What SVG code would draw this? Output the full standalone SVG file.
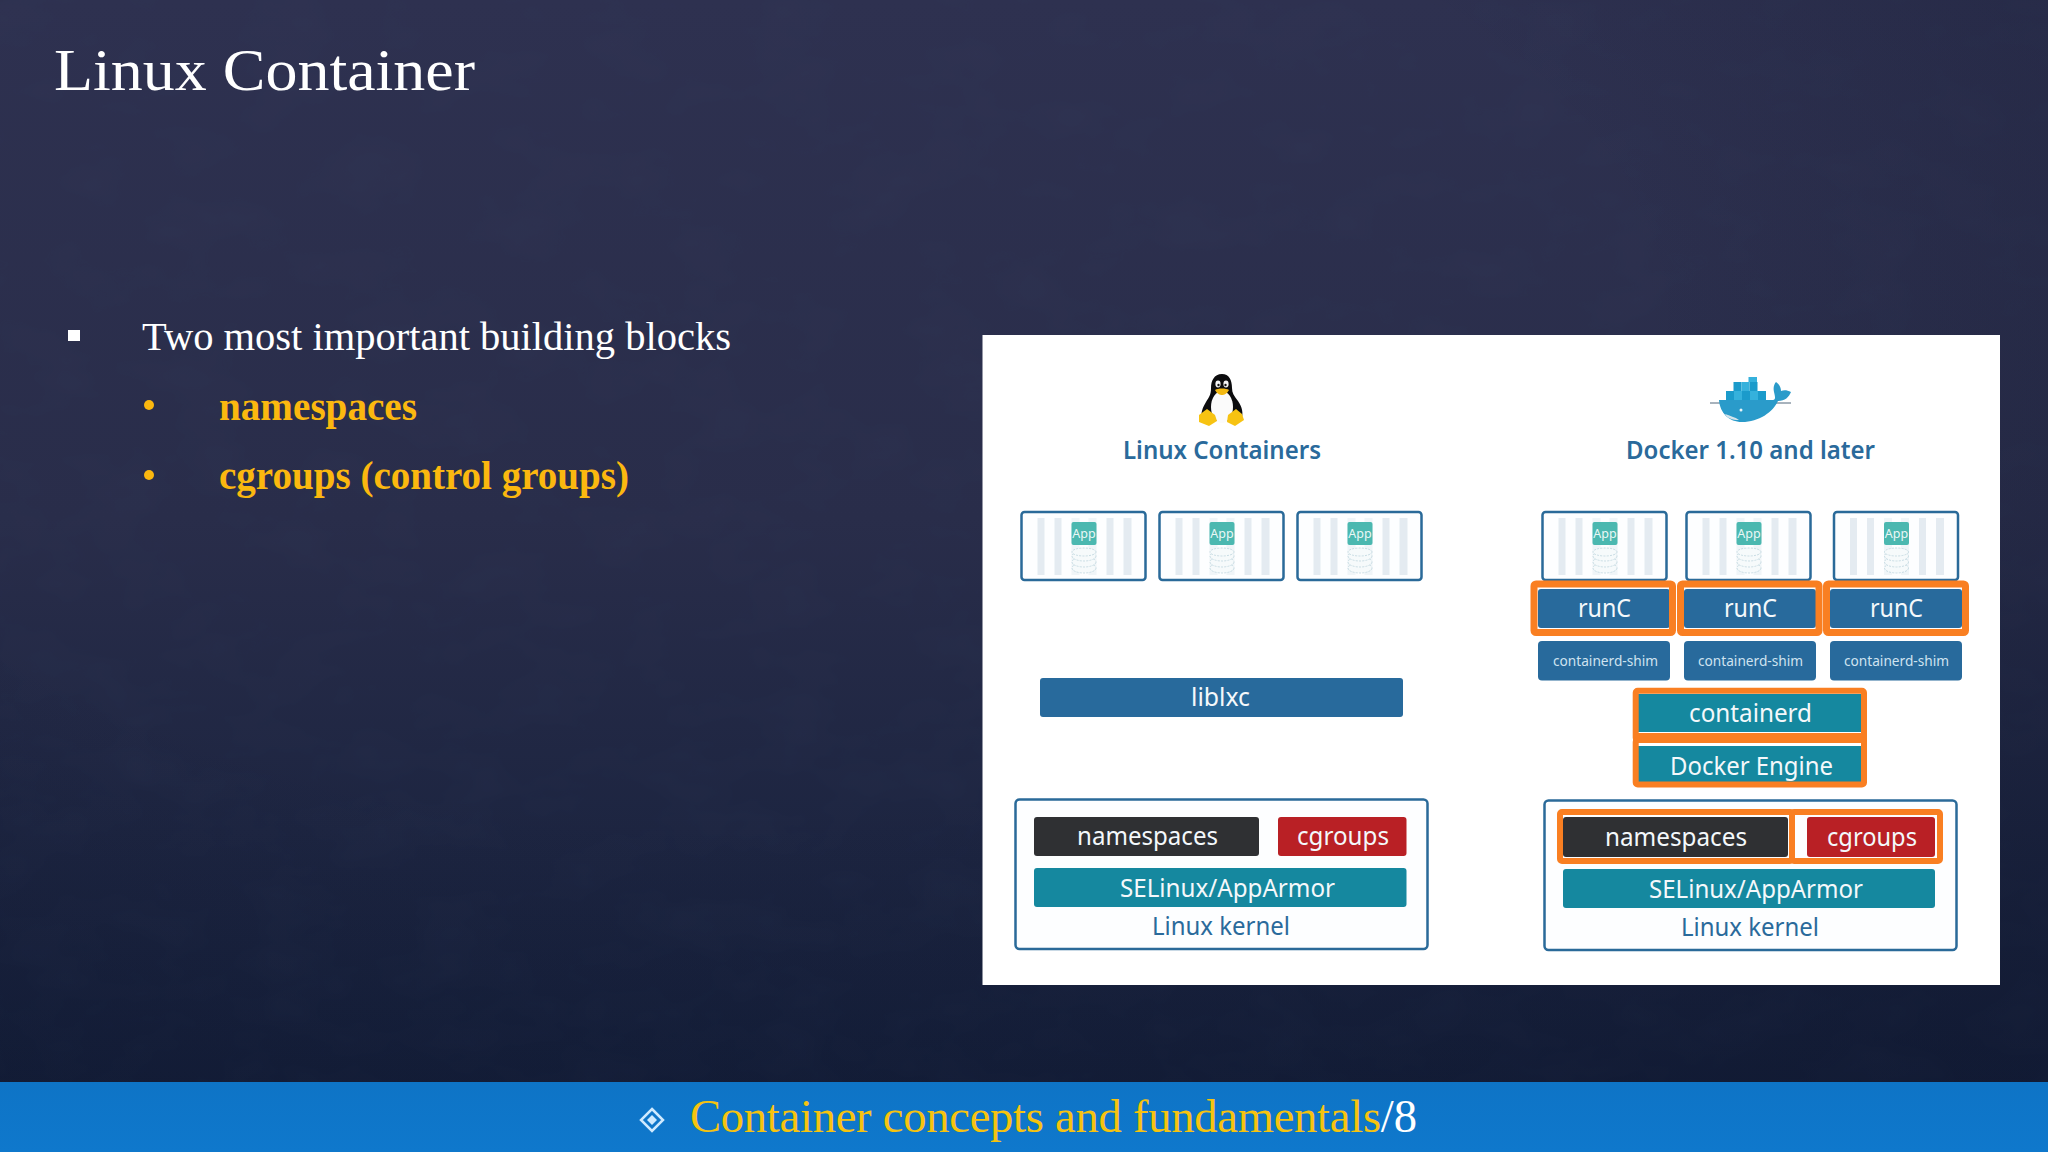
<svg xmlns="http://www.w3.org/2000/svg" width="2048" height="1152" viewBox="0 0 2048 1152">
<style>
.s{font-family:"Liberation Serif","Times New Roman",serif}
.n{font-family:"Noto Sans","Open Sans",sans-serif;font-size:26px}
.w{fill:#f4f8fb}
.b{fill:#286a9c}
.t{fill:#15889f}
.o{fill:none;stroke:#f97f22;stroke-width:6;stroke-linejoin:round}
.f{fill:#fdfeff;stroke:#2a6a99;stroke-width:2.5}
.h{font-weight:600;fill:#2a6a9b;font-size:25px}
.a{font-family:"Noto Sans",sans-serif;font-size:12.5px;fill:#eaf7f6}
</style>
<defs>
<linearGradient id="bg" x1="0" y1="0" x2="0" y2="1">
<stop offset="0" stop-color="#2e3150"/><stop offset=".45" stop-color="#292d4a"/><stop offset=".72" stop-color="#1d2541"/><stop offset="1" stop-color="#121d38"/>
</linearGradient>
<linearGradient id="bar" x1="0" y1="0" x2="0" y2="1"><stop offset="0" stop-color="#0e74c6"/><stop offset="1" stop-color="#0f78cc"/></linearGradient>
<radialGradient id="vg" cx=".35" cy=".3" r=".9"><stop offset=".5" stop-color="#0b1228" stop-opacity="0"/><stop offset="1" stop-color="#0b1228" stop-opacity=".35"/></radialGradient>
<filter id="tex" x="0" y="0" width="100%" height="100%"><feTurbulence type="fractalNoise" baseFrequency=".012 .02" numOctaves="3" seed="4"/><feColorMatrix values="0 0 0 0 .05  0 0 0 0 .07  0 0 0 0 .14  1.2 0 0 0 -.45"/></filter>
<g id="ctr">
<rect x="1" y="1" width="124" height="68" rx="3" class="f"/>
<g fill="#e4ebf1"><rect x="17" y="7" width="7" height="57"/><rect x="34" y="7" width="7" height="57"/><rect x="51" y="7" width="8" height="57" opacity=".5"/><rect x="68" y="7" width="8" height="57" opacity=".5"/><rect x="86" y="7" width="7" height="57"/><rect x="103" y="7" width="8" height="57"/></g>
<rect x="51" y="11" width="25" height="23" rx="2" fill="#4bb8b0"/>
<g fill="#f6fafb" stroke="#bdd4dd" stroke-width=".8" stroke-dasharray="2 1.2"><ellipse cx="63.500" cy="57" rx="12" ry="5"/><ellipse cx="63.500" cy="51" rx="12" ry="5"/><ellipse cx="63.500" cy="45" rx="12" ry="5"/><ellipse cx="63.500" cy="41" rx="12" ry="4"/></g>
</g>
</defs>
<rect width="2048" height="1152" fill="url(#bg)"/>
<rect width="2048" height="1082" filter="url(#tex)" opacity=".15"/>
<rect width="2048" height="1082" fill="url(#vg)"/>

<g id="title"><text class="s" x="54" y="90" font-size="60" fill="#fff" textLength="421" lengthAdjust="spacingAndGlyphs">Linux Container</text></g>

<g id="bullets">
<rect x="68" y="330" width="12" height="11" fill="#fff"/>
<text class="s" x="142" y="350" font-size="41" fill="#fff" textLength="589" lengthAdjust="spacingAndGlyphs">Two most important building blocks</text>
<circle cx="149" cy="405" r="5" fill="#fbb80f"/>
<text class="s" x="219" y="420" font-size="39" font-weight="bold" fill="#fbb80f" textLength="198" lengthAdjust="spacingAndGlyphs">namespaces</text>
<circle cx="149" cy="475" r="5" fill="#fbb80f"/>
<text class="s" x="219" y="489" font-size="39" font-weight="bold" fill="#fbb80f" textLength="410" lengthAdjust="spacingAndGlyphs">cgroups (control groups)</text>
</g>

<g id="footer">
<rect y="1082" width="2048" height="70" fill="url(#bar)"/>
<path d="M652 1109l11 11-11 11-11-11z" fill="none" stroke="#cfeaff" stroke-width="2.500"/>
<path d="M652 1115l5 5-5 5-5-5z" fill="#cfeaff"/>
<text class="s" x="690" y="1132" font-size="46" textLength="727" lengthAdjust="spacingAndGlyphs"><tspan fill="#f6c30f" letter-spacing="-.25">Container concepts and fundamentals</tspan><tspan fill="#fff">/8</tspan></text>
</g>

<rect id="panel" x="982.500" y="335" width="1017.500" height="650" fill="#fff"/>

<g id="penguin">
<path d="M1222 374c-8 0-11 7-11 14 0 7-2 9-5 14-3 5-6 11-4 19l39 0c3-8 1-14-3-20-4-5-6-8-6-13 0-8-3-14-10-14z" fill="#0c0c0e"/>
<ellipse cx="1222" cy="407" rx="11" ry="16" fill="#fbfbfb"/>
<ellipse cx="1218" cy="384" rx="2.600" ry="3.400" fill="#f4f4f4"/><ellipse cx="1226" cy="384" rx="2.600" ry="3.400" fill="#f4f4f4"/>
<circle cx="1218.500" cy="385" r="1.200" fill="#111"/><circle cx="1225.500" cy="385" r="1.200" fill="#111"/>
<path d="M1215 390c3-2 11-2 14 0-2 4-5 5-7 5s-5-1-7-5z" fill="#f3b912"/>
<path d="M1207 409l8 6 2 6-8 5-10-4 0-7z" fill="#f7c312"/>
<path d="M1236 409l-8 6-1 7 8 4 9-6-2-6z" fill="#f7c312"/>
</g>
<text id="h1" class="n h" x="1123" y="459" textLength="198" lengthAdjust="spacingAndGlyphs">Linux Containers</text>

<g id="whale">
<path d="M1710 403h81" stroke="#51677a" stroke-width="1"/>
<g fill="#1b9bcb">
<rect x="1726" y="391" width="8" height="9"/><rect x="1734" y="391" width="8" height="9" fill="#35b1dc"/><rect x="1742" y="391" width="8" height="9"/><rect x="1750" y="391" width="8" height="9" fill="#35b1dc"/><rect x="1758" y="391" width="8" height="9"/>
<rect x="1733.500" y="382" width="8" height="9"/><rect x="1741.500" y="382" width="8" height="9" fill="#35b1dc"/><rect x="1749.500" y="382" width="8" height="9"/>
<rect x="1748.500" y="377" width="8.500" height="5" fill="#35b1dc"/>
</g>
<path d="M1719 400h54c3 0 2-4 1-8-1-4 0-8 2-10 3 2 5 5 5 9 3-1 6-1 10 1-2 5-6 9-13 9-5 11-19 21-36 21-13 0-22-9-23-22z" fill="#2a9bca"/>
<path d="M1725 414c5 2 10 3 14 6-7 0-12-2-14-6z" fill="#d6e4ea"/>
<circle cx="1741" cy="410" r="1.500" fill="#e8f4f8"/>
</g>
<text id="h2" class="n h" x="1626" y="459" textLength="249" lengthAdjust="spacingAndGlyphs">Docker 1.10 and later</text>

<g id="lxc-containers">
<use href="#ctr" x="1020.500" y="511"/><text class="a" x="1084" y="538" text-anchor="middle">App</text>
<use href="#ctr" x="1158.500" y="511"/><text class="a" x="1222" y="538" text-anchor="middle">App</text>
<use href="#ctr" x="1296.500" y="511"/><text class="a" x="1360" y="538" text-anchor="middle">App</text>
</g>
<g id="docker-containers">
<use href="#ctr" x="1541.500" y="511"/><text class="a" x="1605" y="538" text-anchor="middle">App</text>
<use href="#ctr" x="1685.500" y="511"/><text class="a" x="1749" y="538" text-anchor="middle">App</text>
<use href="#ctr" x="1833" y="511"/><text class="a" x="1896.500" y="538" text-anchor="middle">App</text>
</g>

<g id="liblxc"><rect x="1040" y="678" width="363" height="39" rx="3" class="b"/><text class="n w" x="1191" y="706" textLength="59" lengthAdjust="spacingAndGlyphs">liblxc</text></g>

<g id="kernel-left">
<rect x="1015.500" y="799.500" width="412" height="149.500" rx="4" class="f"/>
<rect x="1034" y="817" width="225" height="39" rx="3" fill="#2f3033"/><text class="n w" x="1077" y="845" textLength="141" lengthAdjust="spacingAndGlyphs">namespaces</text>
<rect x="1278" y="817" width="128.500" height="39" rx="3" fill="#b92025"/><text class="n w" x="1297" y="845" textLength="92" lengthAdjust="spacingAndGlyphs">cgroups</text>
<rect x="1034" y="868" width="372.500" height="39" rx="3" class="t"/><text class="n w" x="1120" y="897" textLength="215" lengthAdjust="spacingAndGlyphs">SELinux/AppArmor</text>
<text class="n" fill="#2a6a9b" x="1152" y="935" textLength="138" lengthAdjust="spacingAndGlyphs">Linux kernel</text>
</g>

<g id="runc">
<rect x="1538" y="589" width="132" height="39" rx="3" class="b"/><text class="n w" x="1578" y="617" textLength="53" lengthAdjust="spacingAndGlyphs">runC</text>
<rect x="1684" y="589" width="132" height="39" rx="3" class="b"/><text class="n w" x="1724" y="617" textLength="53" lengthAdjust="spacingAndGlyphs">runC</text>
<rect x="1830" y="589" width="132" height="39" rx="3" class="b"/><text class="n w" x="1870" y="617" textLength="53" lengthAdjust="spacingAndGlyphs">runC</text>
<rect x="1534" y="584" width="138.500" height="48.500" rx="2" class="o" style="stroke-width:7"/>
<rect x="1680.500" y="584" width="138.500" height="48.500" rx="2" class="o" style="stroke-width:7"/>
<rect x="1826.500" y="584" width="139" height="48.500" rx="2" class="o" style="stroke-width:7"/>
</g>

<g id="shim">
<rect x="1538" y="641" width="132" height="39.500" rx="4" class="b"/><text class="n" style="font-size:14.500px" fill="#cfe3f0" x="1553" y="666" textLength="105" lengthAdjust="spacingAndGlyphs">containerd-shim</text>
<rect x="1684" y="641" width="132" height="39.500" rx="4" class="b"/><text class="n" style="font-size:14.500px" fill="#cfe3f0" x="1698" y="666" textLength="105" lengthAdjust="spacingAndGlyphs">containerd-shim</text>
<rect x="1830" y="641" width="132" height="39.500" rx="4" class="b"/><text class="n" style="font-size:14.500px" fill="#cfe3f0" x="1844" y="666" textLength="105" lengthAdjust="spacingAndGlyphs">containerd-shim</text>
</g>

<g id="containerd"><rect x="1638" y="694" width="223" height="38" class="t"/><text class="n w" x="1689" y="722" textLength="123" lengthAdjust="spacingAndGlyphs">containerd</text><rect x="1635.700" y="690.700" width="228.300" height="49" rx="2" class="o"/><rect x="1633" y="733" width="234" height="10" fill="#f97f22"/></g>
<g id="docker-engine"><rect x="1638" y="746" width="223" height="36" class="t"/><text class="n w" x="1670" y="775" textLength="163" lengthAdjust="spacingAndGlyphs">Docker Engine</text><rect x="1635.700" y="740" width="228.300" height="44.500" rx="2" class="o"/></g>

<g id="kernel-right">
<rect x="1544.500" y="800.500" width="412" height="149.500" rx="4" class="f"/>
<rect x="1563" y="817" width="225" height="40" rx="3" fill="#2f3033"/><text class="n w" x="1605" y="846" textLength="142" lengthAdjust="spacingAndGlyphs">namespaces</text>
<rect x="1807" y="817" width="128" height="40" rx="3" fill="#b92025"/><text class="n w" x="1827" y="846" textLength="90" lengthAdjust="spacingAndGlyphs">cgroups</text>
<rect x="1560" y="812" width="232" height="49" rx="2" class="o"/>
<rect x="1792" y="812" width="148" height="49" rx="2" class="o"/>
<rect x="1563" y="869" width="372" height="39" rx="3" class="t"/><text class="n w" x="1649" y="898" textLength="214" lengthAdjust="spacingAndGlyphs">SELinux/AppArmor</text>
<text class="n" fill="#2a6a9b" x="1681" y="936" textLength="138" lengthAdjust="spacingAndGlyphs">Linux kernel</text>
</g>
</svg>
